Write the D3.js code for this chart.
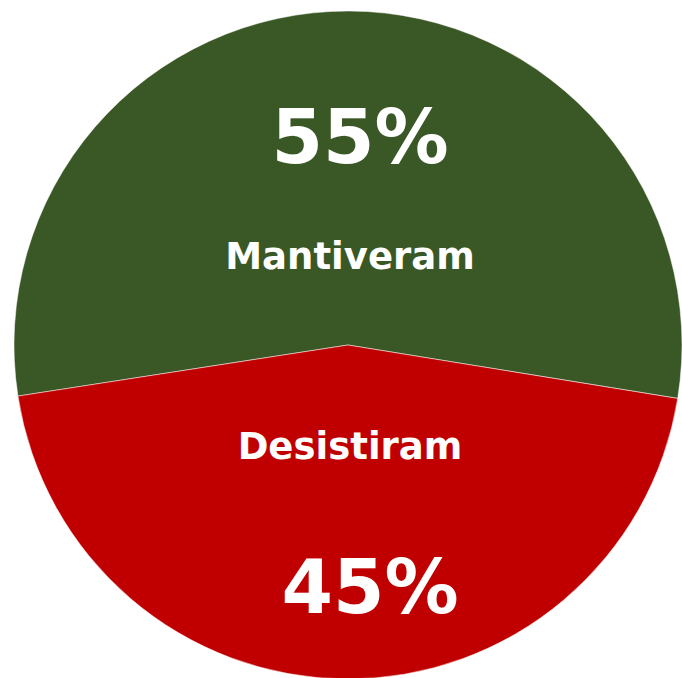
<!DOCTYPE html>
<html>
<head>
<meta charset="utf-8">
<script src="https://cdn.jsdelivr.net/npm/d3@7"></script>
<style>
  body { margin: 0; background: #fff; }
  svg { display: block; }
</style>
</head>
<body>
<div id="chart"></div>
<script>
// data
var categories = ["Mantiveram", "Desistiram"];
var values = [55, 45];
var colors = ["#3A5726", "#C00000"];

var width = 682, height = 678;
var cx = 348, cy = 345, radius = 334;

// label placement (dx, dy from the centre) for percent and name
var pctPos = [[12, -182], [22, 268]];
var namePos = [[2, -76], [2, 114]];

var svg = d3.select("#chart")
  .append("svg")
    .attr("width", width)
    .attr("height", height)
  .append("g")
    .attr("transform", "translate(" + cx + "," + cy + ")");

var pie = d3.pie()
  .sort(null)
  .startAngle(-98.8 * Math.PI / 180)
  .endAngle((360 - 98.8) * Math.PI / 180)
  .value(function(d) { return d; });

var arc = d3.arc()
  .innerRadius(0)
  .outerRadius(radius);

var slices = pie(values);

svg.selectAll("path.slice")
  .data(slices)
  .enter()
  .append("path")
    .attr("class", "slice")
    .attr("d", arc)
    .attr("fill", function(d, i) { return colors[i]; })
    .attr("stroke", "#fff")
    .attr("stroke-width", 0.5);

var total = d3.sum(values);

svg.selectAll("text.pct")
  .data(slices)
  .enter()
  .append("text")
    .attr("class", "pct")
    .attr("x", function(d, i) { return pctPos[i][0]; })
    .attr("y", function(d, i) { return pctPos[i][1]; })
    .attr("text-anchor", "middle")
    .style("font-family", "'DejaVu Sans', Verdana, sans-serif")
    .style("font-weight", "bold")
    .style("font-size", "74px")
    .attr("fill", "#fff")
    .text(function(d) { return Math.round(d.value / total * 100) + "%"; });

svg.selectAll("text.name")
  .data(slices)
  .enter()
  .append("text")
    .attr("class", "name")
    .attr("x", function(d, i) { return namePos[i][0]; })
    .attr("y", function(d, i) { return namePos[i][1]; })
    .attr("text-anchor", "middle")
    .style("font-family", "'DejaVu Sans', Verdana, sans-serif")
    .style("font-weight", "bold")
    .style("font-size", "37px")
    .attr("fill", "#fff")
    .text(function(d, i) { return categories[i]; });
</script>
</body>
</html>
